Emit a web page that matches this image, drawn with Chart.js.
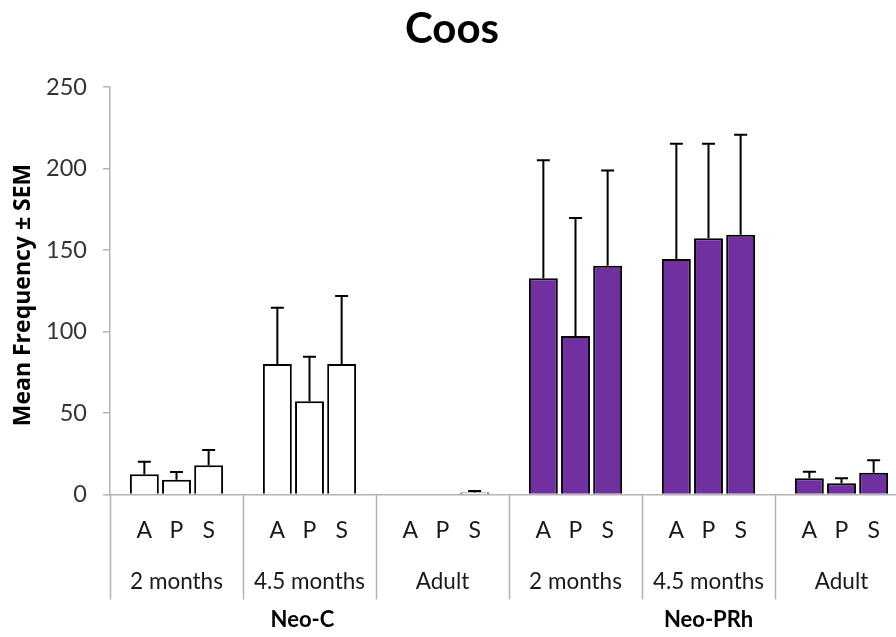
<!DOCTYPE html>
<html>
<head>
<meta charset="utf-8">
<title>Coos</title>
<script src="https://cdn.jsdelivr.net/npm/chart.js@4.4.1/dist/chart.umd.min.js"></script>
<style>
  html, body { margin: 0; padding: 0; background: #fff; overflow: hidden; }
  #wrap { width: 896px; height: 637px; overflow: hidden; }
  canvas { display: block; }
</style>
</head>
<body>
<div id="wrap"><canvas id="c" width="908" height="637"></canvas></div>
<script>
// Age groups, repeated for each treatment
const groups = ['2 months', '4.5 months', 'Adult', '2 months', '4.5 months', 'Adult'];
const treatments = ['Neo-C', 'Neo-PRh'];
const behaviours = ['A', 'P', 'S'];

// Mean frequency per behaviour, one value per group
const meanA = [12.4, 80.1, 0, 132.6, 144.5, 9.9];
const meanP = [9.1, 57.2, 0, 97.2, 157.2, 6.9];
const meanS = [17.9, 80.1, 1.3, 140.4, 159.4, 13.4];

// Standard error of the mean (upper bar only)
const semA = [7.7, 34.5, 0, 72.4, 70.7, 4.1];
const semP = [4.7, 27.3, 0, 72.4, 58.0, 3.0];
const semS = [9.4, 41.7, 0.8, 58.3, 61.3, 7.6];

const yTicks = [0, 50, 100, 150, 200, 250];

const FONT = 'Lato, "Open Sans", "Liberation Sans", sans-serif';
const TITLE_FONT = '"Open Sans", Lato, sans-serif';
const PURPLE = '#7030A0';
const GRAY = '#b3b3b3';
const barFill = groups.map((g, i) => (i < 3 ? '#ffffff' : PURPLE));

const means = [meanA, meanP, meanS];
const sems = [semA, semP, semS];

// Upper error bars with caps
const errorBars = {
  id: 'errorBars',
  afterDatasetsDraw(chart) {
    const ctx = chart.ctx;
    const y = chart.scales.y;
    ctx.save();
    ctx.strokeStyle = '#000';
    ctx.lineWidth = 2;
    chart.data.datasets.forEach((ds, di) => {
      const meta = chart.getDatasetMeta(di);
      meta.data.forEach((bar, i) => {
        const m = means[di][i], e = sems[di][i];
        if (!e) return;
        const y0 = y.getPixelForValue(m);
        const y1 = y.getPixelForValue(m + e);
        ctx.beginPath();
        ctx.moveTo(bar.x, y0);
        ctx.lineTo(bar.x, y1);
        ctx.moveTo(bar.x - 6.5, y1);
        ctx.lineTo(bar.x + 6.5, y1);
        ctx.stroke();
      });
    });
    ctx.restore();
  }
};

// Title, y title and the three-level category labels under the axis
const labelsPlugin = {
  id: 'multiLabels',
  afterDraw(chart) {
    const ctx = chart.ctx;
    const x = chart.scales.x;
    const area = chart.chartArea;
    ctx.save();

    // chart title
    ctx.fillStyle = '#000';
    ctx.font = 'bold 42px ' + FONT;
    ctx.textAlign = 'center';
    ctx.textBaseline = 'middle';
    ctx.fillText('Coos', 452, 29);

    // y axis title
    ctx.save();
    ctx.translate(23, 295);
    ctx.rotate(-Math.PI / 2);
    ctx.font = 'bold 23px ' + TITLE_FONT;
    ctx.fillText('Mean Frequency \u00b1 SEM', 0, 0);
    ctx.restore();

    // behaviour letters under each bar
    ctx.fillStyle = '#1a1a1a';
    ctx.font = '23px ' + FONT;
    chart.data.datasets.forEach((ds, di) => {
      const meta = chart.getDatasetMeta(di);
      meta.data.forEach((bar) => {
        ctx.fillText(behaviours[di], bar.x, area.bottom + 36);
      });
    });

    // age group labels and separators
    ctx.font = '22.5px ' + FONT;
    const step = x.getPixelForValue(1) - x.getPixelForValue(0);
    groups.forEach((g, i) => {
      const cx = x.getPixelForValue(i);
      ctx.fillText(g, cx, area.bottom + 87);
    });
    ctx.strokeStyle = GRAY;
    ctx.lineWidth = 1.5;
    for (let i = 0; i <= groups.length; i++) {
      const sx = Math.round(x.getPixelForValue(i) - step / 2) + 0.5;
      ctx.beginPath();
      ctx.moveTo(sx, area.bottom);
      ctx.lineTo(sx, area.bottom + 105);
      ctx.stroke();
    }

    // treatment labels
    ctx.fillStyle = '#000';
    ctx.font = 'bold 22px ' + FONT;
    const shift = [-7, 0];
    treatments.forEach((t, k) => {
      const cx = (x.getPixelForValue(k * 3) + x.getPixelForValue(k * 3 + 2)) / 2 + shift[k];
      ctx.fillText(t, cx, area.bottom + 125);
    });
    ctx.restore();
  }
};

new Chart(document.getElementById('c'), {
  type: 'bar',
  data: {
    labels: groups,
    datasets: behaviours.map((b, di) => ({
      label: b,
      data: means[di],
      backgroundColor: barFill,
      borderColor: '#000',
      borderWidth: 2,
      borderSkipped: 'bottom',
      categoryPercentage: 0.725,
      barPercentage: 0.9
    }))
  },
  options: {
    responsive: false,
    animation: false,
    devicePixelRatio: 1,
    layout: { padding: { top: 87, left: 0, right: 0, bottom: 0 } },
    plugins: { legend: { display: false }, tooltip: { enabled: false }, title: { display: false } },
    scales: {
      x: {
        ticks: { display: false },
        grid: { display: false },
        border: { display: true, color: GRAY, width: 1.5 },
        afterFit(scale) { scale.height = 142.5; }
      },
      y: {
        min: 0,
        max: 250,
        afterBuildTicks(scale) { scale.ticks = yTicks.map(v => ({ value: v })); },
        ticks: {
          color: '#333333',
          font: { family: FONT, size: 23.5 },
          padding: 16
        },
        grid: {
          drawOnChartArea: false,
          drawTicks: true,
          tickLength: 7,
          color: GRAY,
          lineWidth: 1.5
        },
        border: { display: true, color: GRAY, width: 1.5 },
        afterFit(scale) { scale.width = 110; }
      }
    }
  },
  plugins: [errorBars, labelsPlugin]
});
</script>
</body>
</html>
